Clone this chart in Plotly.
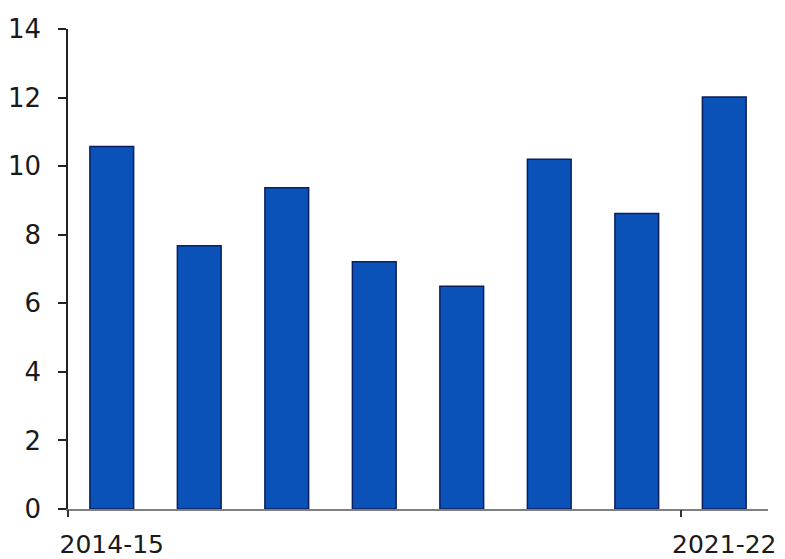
import plotly.graph_objects as go

# Annual values by fiscal year
years = ["2014-15", "2015-16", "2016-17", "2017-18", "2018-19", "2019-20", "2020-21", "2021-22"]
values = [10.57, 7.68, 9.37, 7.21, 6.50, 10.20, 8.62, 12.02]
shown_labels = ["2014-15", "", "", "", "", "", "", "2021-22"]
y_ticks = [0, 2, 4, 6, 8, 10, 12, 14]

FONT = "DejaVu Sans"
positions = list(range(len(years)))

fig = go.Figure()
fig.add_trace(go.Bar(
    x=positions,
    y=values,
    width=0.5,
    marker=dict(color="#0a52b8", line=dict(color="#0b1f5e", width=1.5)),
    hovertext=years,
    showlegend=False,
))

fig.update_layout(
    width=785,
    height=559,
    margin=dict(l=68, r=17, t=29, b=50, autoexpand=False),
    paper_bgcolor="white",
    plot_bgcolor="white",
    font=dict(family=FONT, size=26, color="#1a1a1a"),
    xaxis=dict(
        range=[-0.5, len(years) - 0.5],
        tickmode="array",
        tickvals=positions,
        ticktext=shown_labels,
        tickfont=dict(size=25),
        ticks="outside",
        ticklen=12,
        tickcolor="rgba(0,0,0,0)",
        showline=True,
        linecolor="#7f7f7f",
        linewidth=1.5,
        showgrid=False,
        zeroline=False,
        automargin=False,
        fixedrange=True,
    ),
    # companion axis carrying only the two boundary tick marks
    xaxis2=dict(
        overlaying="x",
        side="bottom",
        range=[-0.5, len(years) - 0.5],
        tickmode="array",
        tickvals=[-0.5, len(years) - 1.5],
        ticktext=["", ""],
        ticks="outside",
        ticklen=7,
        tickwidth=1.5,
        tickcolor="#333333",
        showline=False,
        showgrid=False,
        zeroline=False,
        automargin=False,
        anchor="y",
    ),
    yaxis=dict(
        range=[0, 14],
        tickmode="array",
        tickvals=y_ticks,
        ticks="outside",
        ticklen=8,
        tickwidth=1.5,
        tickcolor="#222222",
        ticklabelstandoff=12,
        showline=True,
        linecolor="#222222",
        linewidth=1.5,
        showgrid=False,
        zeroline=False,
        automargin=False,
    ),
)

# invisible trace to activate the companion axis
fig.add_trace(go.Scatter(x=[None], y=[None], xaxis="x2", showlegend=False, hoverinfo="skip"))

fig.write_html("out.html")
